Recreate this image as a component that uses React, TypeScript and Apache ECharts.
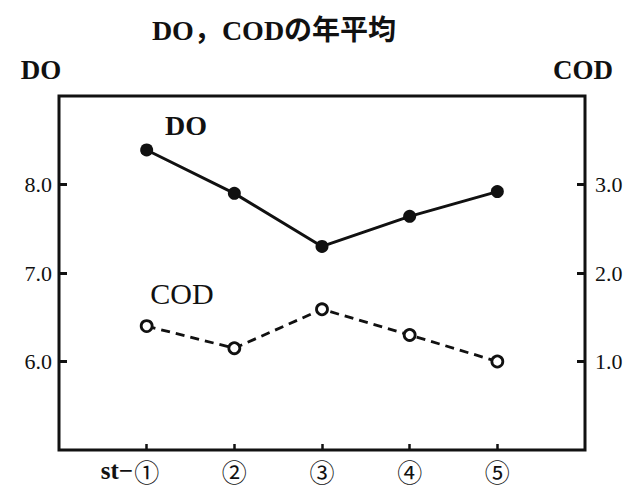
import React, { useEffect, useRef } from "react";
import * as echarts from "echarts";

const stations = [1, 2, 3, 4, 5];
const stationLabels = ["①", "②", "③", "④", "⑤"];
const doValues = [8.39, 7.9, 7.3, 7.64, 7.92];
const codValues = [1.4, 1.15, 1.59, 1.3, 1.0];
const leftTicks = [6, 7, 8];
const rightTicks = [1, 2, 3];

const SERIF = "'Liberation Serif', 'DejaVu Serif', 'Noto Sans CJK JP', serif";
const INK = "#111";

export default function App() {
  const ref = useRef<HTMLDivElement>(null);
  useEffect(() => {
    if (!ref.current) return;
    const chart = echarts.init(ref.current, undefined, { renderer: "svg" });
    chart.setOption({
      animation: false,
      backgroundColor: "#fff",
      grid: {
        left: 59,
        right: 52,
        top: 96,
        bottom: 46,
        show: true,
        borderColor: INK,
        borderWidth: 3,
        backgroundColor: "transparent",
      },
      xAxis: {
        type: "value",
        min: 0,
        max: 6,
        interval: 1,
        splitLine: { show: false },
        axisLine: { show: false },
        axisTick: {
          show: true,
          inside: true,
          length: 6,
          customValues: stations,
          lineStyle: { color: INK, width: 2.5 },
        },
        axisLabel: {
          customValues: stations,
          margin: 11,
          formatter: (v: number) => stationLabels[Math.round(v) - 1] ?? "",
          color: INK,
          fontSize: 25,
          fontFamily: "'DejaVu Serif', 'Noto Sans CJK JP', serif",
        },
      },
      yAxis: [
        {
          type: "value",
          min: 5,
          max: 9,
          interval: 1,
          position: "left",
          splitLine: { show: false },
          axisLine: { show: false },
          axisTick: {
            show: true,
            inside: true,
            length: 8,
            customValues: leftTicks,
            lineStyle: { color: INK, width: 3 },
          },
          axisLabel: {
            customValues: leftTicks,
            margin: 7,
            formatter: (v: number) => v.toFixed(1),
            color: INK,
            fontSize: 22,
            fontFamily: SERIF,
          },
        },
        {
          type: "value",
          min: 0,
          max: 4,
          interval: 1,
          position: "right",
          splitLine: { show: false },
          axisLine: { show: false },
          axisTick: {
            show: true,
            inside: true,
            length: 8,
            customValues: rightTicks,
            lineStyle: { color: INK, width: 3 },
          },
          axisLabel: {
            customValues: rightTicks,
            margin: 10,
            formatter: (v: number) => v.toFixed(1),
            color: INK,
            fontSize: 22,
            fontFamily: SERIF,
          },
        },
      ],
      series: [
        {
          name: "DO",
          type: "line",
          yAxisIndex: 0,
          data: stations.map((s, i) => [s, doValues[i]]),
          symbol: "circle",
          symbolSize: 13,
          itemStyle: { color: INK, borderWidth: 0 },
          lineStyle: { color: INK, width: 3 },
          z: 3,
        },
        {
          name: "COD",
          type: "line",
          yAxisIndex: 1,
          data: stations.map((s, i) => [s, codValues[i]]),
          symbol: "circle",
          symbolSize: 11,
          showAllSymbol: true,
          itemStyle: { color: "#fff", borderColor: INK, borderWidth: 2.8 },
          lineStyle: { color: INK, width: 2.8, type: [9, 6] },
          z: 3,
        },
      ],
      graphic: [
        {
          type: "text",
          x: 274,
          y: 30,
          style: {
            text: "DO，CODの年平均",
            textAlign: "center",
            textVerticalAlign: "middle",
            font: `bold 28px ${SERIF}`,
            fill: INK,
          },
        },
        {
          type: "text",
          x: 41,
          y: 70,
          style: {
            text: "DO",
            textAlign: "center",
            textVerticalAlign: "middle",
            font: `bold 27px ${SERIF}`,
            fill: INK,
          },
        },
        {
          type: "text",
          x: 583,
          y: 70,
          style: {
            text: "COD",
            textAlign: "center",
            textVerticalAlign: "middle",
            font: `bold 27px ${SERIF}`,
            fill: INK,
          },
        },
        {
          type: "text",
          x: 186,
          y: 125,
          style: {
            text: "DO",
            textAlign: "center",
            textVerticalAlign: "middle",
            font: `bold 28px ${SERIF}`,
            fill: INK,
          },
        },
        {
          type: "text",
          x: 182,
          y: 293,
          style: {
            text: "COD",
            textAlign: "center",
            textVerticalAlign: "middle",
            font: `30px ${SERIF}`,
            fill: INK,
          },
        },
        {
          type: "text",
          x: 133,
          y: 470,
          style: {
            text: "st−",
            textAlign: "right",
            textVerticalAlign: "middle",
            font: `bold 25px ${SERIF}`,
            fill: INK,
          },
        },
      ],
    });
    return () => chart.dispose();
  }, []);
  return (
    <div
      ref={ref}
      style={{ position: "fixed", left: 0, top: 0, width: 637, height: 496, background: "#fff" }}
    />
  );
}
